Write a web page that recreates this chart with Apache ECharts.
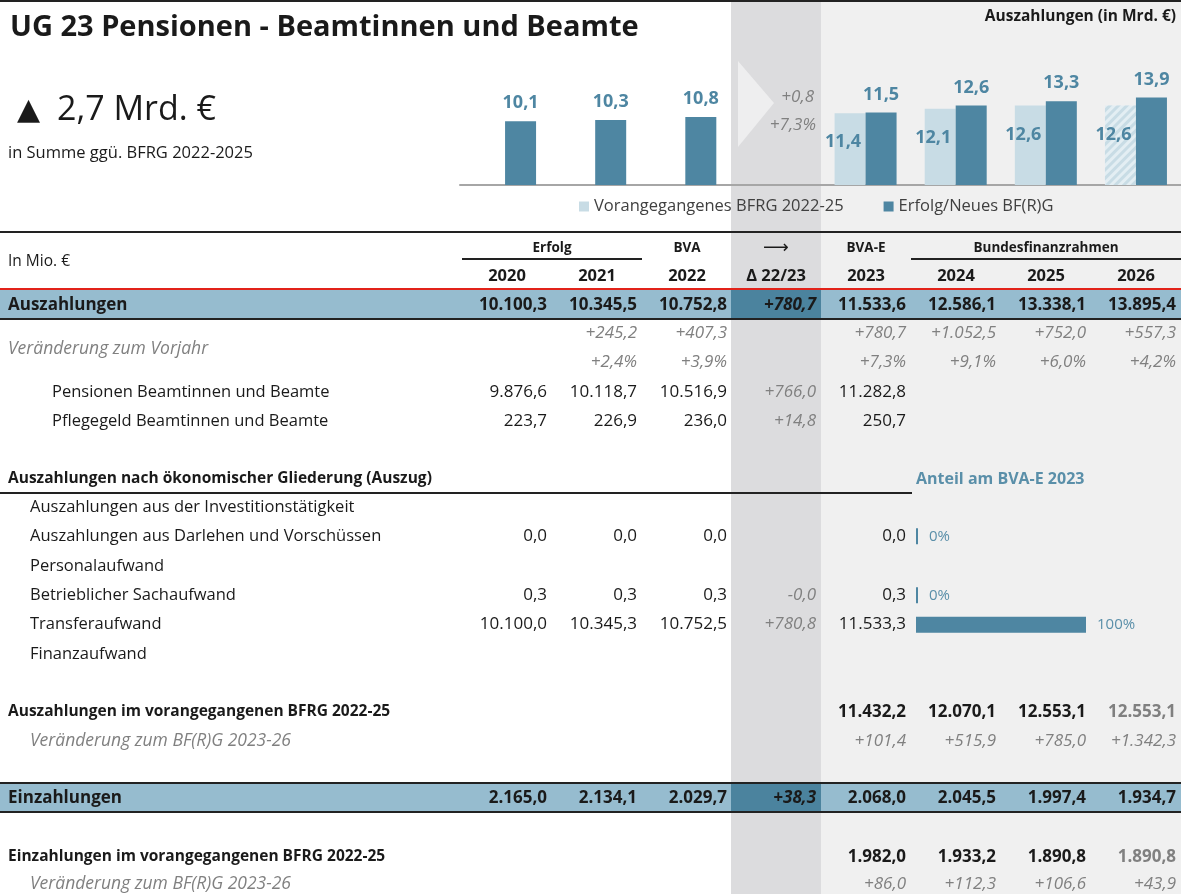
<!DOCTYPE html>
<html>
<head>
<meta charset="utf-8">
<script src="https://cdn.jsdelivr.net/npm/echarts@6.0.0/dist/echarts.min.js"></script>
<style>
html, body { margin: 0; padding: 0; background: #fff; }
#main { width: 1181px; height: 894px; }
</style>
</head>
<body>
<div id="main"></div>
<script>
// ---- data ----
var chartCats = ['2020', '2021', '2022', '', '2023', '2024', '2025', '2026'];
var neuMrd = [10.1, 10.3, 10.8, null, 11.5, 12.6, 13.3, 13.9];
var altMrd = [null, null, null, null, 11.4, 12.1, 12.6, 12.6];

var colHeads = ['2020', '2021', '2022', 'Δ 22/23', '2023', '2024', '2025', '2026'];
var auszahlungen = ['10.100,3', '10.345,5', '10.752,8', '+780,7', '11.533,6', '12.586,1', '13.338,1', '13.895,4'];
var vorjahrAbs = ['', '+245,2', '+407,3', '', '+780,7', '+1.052,5', '+752,0', '+557,3'];
var vorjahrPct = ['', '+2,4%', '+3,9%', '', '+7,3%', '+9,1%', '+6,0%', '+4,2%'];
var pensionen = ['9.876,6', '10.118,7', '10.516,9', '+766,0', '11.282,8', '', '', ''];
var pflegegeld = ['223,7', '226,9', '236,0', '+14,8', '250,7', '', '', ''];

var oekLabels = ['Auszahlungen aus der Investitionstätigkeit', 'Auszahlungen aus Darlehen und Vorschüssen',
  'Personalaufwand', 'Betrieblicher Sachaufwand', 'Transferaufwand', 'Finanzaufwand'];
var oekValues = [
  ['', '', '', '', ''],
  ['0,0', '0,0', '0,0', '', '0,0'],
  ['', '', '', '', ''],
  ['0,3', '0,3', '0,3', '-0,0', '0,3'],
  ['10.100,0', '10.345,3', '10.752,5', '+780,8', '11.533,3'],
  ['', '', '', '', '']
];
var anteil = [null, 0, null, 0, 100, null];

var ausAlt = ['', '', '', '', '11.432,2', '12.070,1', '12.553,1', '12.553,1'];
var ausAltDiff = ['', '', '', '', '+101,4', '+515,9', '+785,0', '+1.342,3'];
var einzahlungen = ['2.165,0', '2.134,1', '2.029,7', '+38,3', '2.068,0', '2.045,5', '1.997,4', '1.934,7'];
var einAlt = ['', '', '', '', '1.982,0', '1.933,2', '1.890,8', '1.890,8'];
var einAltDiff = ['', '', '', '', '+86,0', '+112,3', '+106,6', '+43,9'];

// ---- layout / style ----
var FONT = '"Open Sans", "Noto Sans", "DejaVu Sans", sans-serif';
var TEAL = '#4e86a2';
var LIGHT = '#c8dce5';
var ROW_BG = '#96bccf';
var DELTA_BG = '#4b839e';
var GREY = '#808080';
var INK = '#1a1a1a';
var NUM = 17;
var colRight = [547, 637, 727, 816, 906, 996, 1086, 1176];
var colCenter = [507, 597, 687, 776, 866, 956, 1046, 1136];

var chart = echarts.init(document.getElementById('main'));
var g = [];

function rect(x, y, w, h, fill, z) {
  g.push({ type: 'rect', silent: true, z: z, shape: { x: x, y: y, width: w, height: h }, style: { fill: fill } });
}
function text(x, y, s, o) {
  o = o || {};
  g.push({
    type: 'text', silent: true, z: 50, x: x, y: y,
    style: {
      text: s, fill: o.color || INK,
      font: (o.italic ? 'italic ' : '') + (o.bold ? 'bold ' : '') + (o.size || 16.5) + 'px ' + FONT,
      textAlign: o.align || 'left', textVerticalAlign: 'middle'
    }
  });
}
function rowValues(y, arr, fn) {
  arr.forEach(function (v, i) {
    if (v) text(colRight[i], y, v, Object.assign({ align: 'right', size: NUM }, fn(i)));
  });
}

// backgrounds
rect(821, 2, 360, 892, '#f0f0f0', -20);
rect(731, 2, 90, 892, '#dcdcde', -20);
g.push({ type: 'polygon', silent: true, z: -15, shape: { points: [[738, 61], [774, 103], [738, 147]] }, style: { fill: '#eeeeef' } });

// lines
rect(0, 0, 1181, 2, '#222', -5);
rect(0, 231, 1181, 2, '#222', -5);
rect(462, 258, 180, 2, '#222', -5);
rect(911, 258, 270, 2, '#222', -5);

// highlight rows
rect(0, 290, 1181, 29, ROW_BG, -10);
rect(731, 290, 90, 29, DELTA_BG, -9);
rect(0, 288, 1181, 2, '#e2231a', -5);
rect(0, 318, 1181, 2, '#222', -5);
rect(0, 492, 912, 2, '#222', -5);
rect(0, 784, 1181, 28, ROW_BG, -10);
rect(731, 784, 90, 28, DELTA_BG, -9);
rect(0, 782, 1181, 2, '#222', -5);
rect(0, 811, 1181, 2, '#222', -5);

// header texts
text(10, 28, 'UG 23 Pensionen - Beamtinnen und Beamte', { bold: true, size: 29 });
text(1176, 17, 'Auszahlungen (in Mrd. €)', { bold: true, size: 15.5, align: 'right' });
text(17, 110, '▲', { size: 30 });
text(57, 110, '2,7 Mrd. €', { size: 34 });
text(8, 153, 'in Summe ggü. BFRG 2022-2025', { size: 16.5 });

text(8, 262, 'In Mio. €', { size: 15.5 });
text(552, 248, 'Erfolg', { bold: true, size: 13.5, align: 'center' });
text(687, 248, 'BVA', { bold: true, size: 13.5, align: 'center' });
text(776, 248, '⟶', { size: 18, align: 'center' });
text(866, 248, 'BVA-E', { bold: true, size: 13.5, align: 'center' });
text(1046, 248, 'Bundesfinanzrahmen', { bold: true, size: 13.5, align: 'center' });
colHeads.forEach(function (h, i) { text(colCenter[i], 276, h, { bold: true, size: 16.5, align: 'center' }); });

// Auszahlungen
text(8, 305, 'Auszahlungen', { bold: true, size: 17 });
rowValues(305, auszahlungen, function (i) { return { bold: true, italic: i === 3 }; });
text(8, 349, 'Veränderung zum Vorjahr', { italic: true, color: GREY, size: 17.5 });
rowValues(333, vorjahrAbs, function () { return { italic: true, color: GREY }; });
rowValues(362, vorjahrPct, function () { return { italic: true, color: GREY }; });
text(52, 392, 'Pensionen Beamtinnen und Beamte');
rowValues(392, pensionen, function (i) { return i === 3 ? { italic: true, color: GREY } : {}; });
text(52, 421, 'Pflegegeld Beamtinnen und Beamte');
rowValues(421, pflegegeld, function (i) { return i === 3 ? { italic: true, color: GREY } : {}; });

// oekonomische Gliederung
text(8, 479, 'Auszahlungen nach ökonomischer Gliederung (Auszug)', { bold: true, size: 15.5 });
text(916, 479, 'Anteil am BVA-E 2023', { bold: true, size: 16, color: '#5a8fa9' });
oekLabels.forEach(function (l, r) {
  var y = 507 + r * 29.4;
  text(30, y, l);
  rowValues(y, oekValues[r], function (i) { return i === 3 ? { italic: true, color: GREY } : {}; });
});

// vorangegangener BFRG
text(8, 712, 'Auszahlungen im vorangegangenen BFRG 2022-25', { bold: true, size: 15.5 });
rowValues(712, ausAlt, function (i) { return { bold: true, color: i === 7 ? GREY : INK }; });
text(30, 741, 'Veränderung zum BF(R)G 2023-26', { italic: true, color: GREY, size: 17.5 });
rowValues(741, ausAltDiff, function () { return { italic: true, color: GREY }; });

text(8, 798, 'Einzahlungen', { bold: true, size: 17 });
rowValues(798, einzahlungen, function (i) { return { bold: true, italic: i === 3 }; });

text(8, 857, 'Einzahlungen im vorangegangenen BFRG 2022-25', { bold: true, size: 15.5 });
rowValues(857, einAlt, function (i) { return { bold: true, color: i === 7 ? GREY : INK }; });
text(30, 884, 'Veränderung zum BF(R)G 2023-26', { italic: true, color: GREY, size: 17.5 });
rowValues(884, einAltDiff, function () { return { italic: true, color: GREY }; });

// delta annotations in top chart
text(814, 97, '+0,8', { italic: true, color: GREY, align: 'right', size: 17 });
text(816, 125, '+7,3%', { italic: true, color: GREY, align: 'right', size: 17 });

function fmt(p) { return p.value == null ? '' : p.value.toFixed(1).replace('.', ','); }

var altData = altMrd.map(function (v, i) {
  if (i === 7) {
    return { value: v, itemStyle: { color: '#e3eef3', decal: { symbol: 'rect', color: LIGHT, dashArrayX: [1, 0], dashArrayY: [3, 3], rotation: -Math.PI / 4 } } };
  }
  return v;
});

chart.setOption({
  animation: false,
  textStyle: { fontFamily: FONT },
  graphic: { elements: g },
  legend: {
    left: 574, top: 193, itemWidth: 10, itemHeight: 10, itemGap: 40, icon: 'rect',
    textStyle: { fontSize: 16.5, color: '#404040', fontFamily: FONT },
    data: ['Vorangegangenes BFRG 2022-25', 'Erfolg/Neues BF(R)G']
  },
  grid: [
    { left: 460, top: 59, width: 721, height: 126 },
    { left: 916, top: 492, width: 170, height: 177 }
  ],
  xAxis: [
    { gridIndex: 0, type: 'category', data: chartCats, axisTick: { show: false }, axisLabel: { show: false },
      axisLine: { lineStyle: { color: '#a6a6a6', width: 2 } } },
    { gridIndex: 1, type: 'value', min: 0, max: 100, show: false }
  ],
  yAxis: [
    { gridIndex: 0, type: 'value', min: 0, max: 20, show: false },
    { gridIndex: 1, type: 'category', data: oekLabels, inverse: true, show: false }
  ],
  series: [
    {
      name: 'Vorangegangenes BFRG 2022-25', type: 'bar', xAxisIndex: 0, yAxisIndex: 0,
      data: altData, barWidth: 31, barGap: '0%', itemStyle: { color: LIGHT },
      label: { show: true, position: 'insideTop', distance: 20, offset: [-7, 0], color: TEAL, fontWeight: 'bold', fontSize: 18, formatter: fmt }
    },
    {
      name: 'Erfolg/Neues BF(R)G', type: 'bar', xAxisIndex: 0, yAxisIndex: 0,
      data: neuMrd, barWidth: 31, barGap: '0%', itemStyle: { color: TEAL },
      label: { show: true, position: 'top', distance: 9, color: TEAL, fontWeight: 'bold', fontSize: 18, formatter: fmt }
    },
    {
      name: 'Anteil', type: 'bar', xAxisIndex: 1, yAxisIndex: 1,
      data: anteil, barWidth: 16, barMinHeight: 2, itemStyle: { color: TEAL },
      label: { show: true, position: 'right', distance: 11, color: '#5a8fa9', fontSize: 15,
        formatter: function (p) { return p.value == null ? '' : p.value + '%'; } }
    }
  ]
});
</script>
</body>
</html>
